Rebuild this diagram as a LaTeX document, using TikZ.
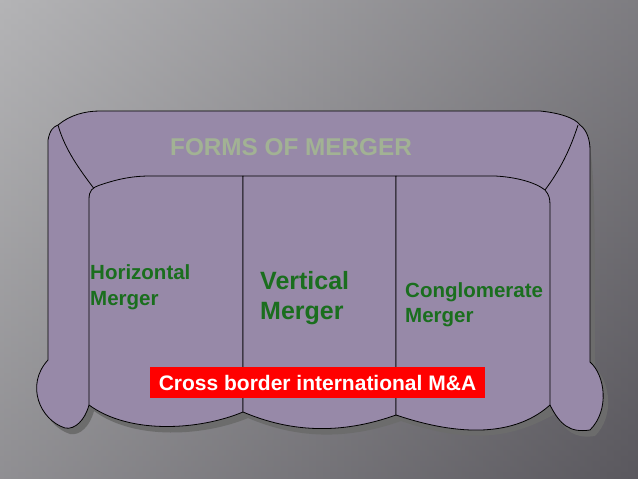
\documentclass[tikz,border=0pt]{standalone}
\usepackage{fontspec}
\setmainfont{Liberation Sans}
\definecolor{sofa}{HTML}{9789A8}
\definecolor{grn}{HTML}{1A6E1E}
\definecolor{ttl}{HTML}{A2B294}
\definecolor{bgd}{HTML}{5A585E}
\definecolor{bgl}{HTML}{B4B4B6}
\begin{document}
\begin{tikzpicture}[x=1pt,y=-1pt,
  part/.style={fill=sofa,draw=black,line width=0.8pt,line join=round},
  shad/.style={fill=gray!85!black},
  lab/.style={font=\bfseries,text=grn,align=left,anchor=base west,inner sep=0pt}]
\shade[left color=bgl,right color=bgd] (0,0) rectangle (638,479);
\shade[top color=bgl,bottom color=bgd,opacity=0.4] (0,0) rectangle (638,479);
\useasboundingbox (0,0) rectangle (638,479);
% shadow
\begin{scope}[shift={(5,6)}]
\fill[shad] (48,360) .. controls (48,250) and (48,170) .. (58,125) .. controls (70,115) and (85,111) .. (100,111) -- (540,111) .. controls (560,113) and (575,118) .. (580,125) .. controls (590,145) and (590,200) .. (590,362) .. controls (605,375) and (610,410) .. (590,430) .. controls (570,433) and (560,425) .. (550,408) .. controls (510,430) and (470,440) .. (396,415) .. controls (340,435) and (290,432) .. (243,412) .. controls (200,430) and (130,435) .. (89,405) .. controls (85,420) and (75,430) .. (65,428) .. controls (40,420) and (25,385) .. (48,360) -- cycle;
\end{scope}
% arms + back
\draw[part] (48,360) -- (48,140) .. controls (50,130) and (53,127) .. (58,125) .. controls (70,115) and (85,111) .. (100,111) -- (540,111) .. controls (560,113) and (575,118) .. (580,125) .. controls (587,130) and (590,140) .. (590,150) -- (590,362) .. controls (605,375) and (610,410) .. (590,430) .. controls (570,433) and (560,425) .. (550,405) -- (89,405) .. controls (85,420) and (75,430) .. (65,428) .. controls (40,420) and (25,385) .. (48,360) -- cycle;
\draw[part] (58,125) .. controls (65,150) and (80,170) .. (95,190);
\draw[part] (578,125) .. controls (570,150) and (560,170) .. (545,190);
% seats
\draw[part] (89,405) -- (89,200) .. controls (89,190) and (92,188) .. (100,185) .. controls (115,180) and (130,176) .. (150,176) -- (243,176) -- (243,412) .. controls (200,430) and (130,435) .. (89,405) -- cycle;
\draw[part] (243,176) -- (396,176) -- (396,415) .. controls (340,435) and (290,432) .. (243,412) -- cycle;
\draw[part] (396,176) -- (495,176) .. controls (515,177) and (535,182) .. (545,190) .. controls (549,195) and (550,198) .. (550,205) -- (550,405) .. controls (520,432) and (470,440) .. (396,415) -- cycle;
% texts
\node[font=\bfseries\fontsize{24.3}{28}\selectfont,text=ttl,anchor=base west,inner sep=0pt] (title) at (170,155) {FORMS OF MERGER};
\node[lab,font=\bfseries\fontsize{20.5}{26}\selectfont] (h) at (90,305) {Horizontal\\Merger};
\node[lab,font=\bfseries\fontsize{25}{30}\selectfont] (v) at (260,319) {Vertical\\Merger};
\node[lab,font=\bfseries\fontsize{20.5}{25}\selectfont] (c) at (405,322) {Conglomerate\\Merger};
\node[fill=red,text=white,font=\bfseries\fontsize{21}{24}\selectfont,minimum width=335,minimum height=31,inner sep=0pt] (x) at (317.5,382.5) {Cross border international M\&A};
\end{tikzpicture}
\end{document}
